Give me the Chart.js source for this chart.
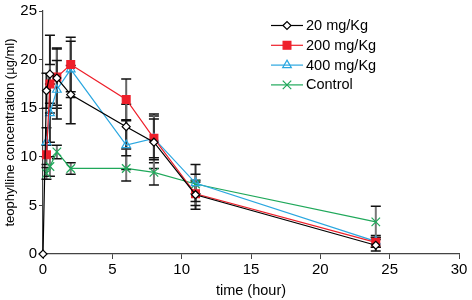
<!DOCTYPE html>
<html lang="en">
<head>
<meta charset="UTF-8">
<title>Teophylline</title>
<script src="https://cdn.jsdelivr.net/npm/chart.js"></script>
<style>
  body { margin: 0; background: #fff; }
  #caixa { width: 472px; height: 300px; }
</style>
</head>
<body>
<div id="caixa"><canvas id="grafico"></canvas></div>

<script>
// tempos (hora) e concentrações (µg/ml)
var tempos20 = [0, 0.25, 0.5, 1, 2, 6, 8, 11, 24]
var tempos = [0.25, 0.5, 1, 2, 6, 8, 11, 24]

var dose20 = [0, 16.8, 18.5, 18.1, 16.4, 13.1, 11.5, 6.1, 0.9]
var erro20 = [0, 1.8, 4.0, 3.1, 3.0, 2.3, 2.7, 1.5, 0.6]

var dose200 = [10.2, 17.5, 18.2, 19.5, 15.9, 11.9, 6.2, 1.2]
var erro200 = [1.0, 2.0, 2.9, 2.8, 2.1, 2.5, 1.2, 0.5]

var dose400 = [11.5, 14.5, 16.9, 19.0, 11.2, 11.9, 7.3, 1.3]
var erro400 = [1.5, 3.0, 3.0, 2.9, 2.5, 2.0, 1.9, 0.6]

var controle = [8.3, 9.0, 10.5, 8.8, 8.8, 8.4, 7.2, 3.3]
var erroControle = [0.6, 1.0, 0.7, 0.6, 1.3, 1.3, 1.0, 1.6]

var xTicks = [0, 5, 10, 15, 20, 25, 30]
var yTicks = [0, 5, 10, 15, 20, 25]

var fonte = "Arial, 'Liberation Sans', sans-serif"

function pontos(xs, ys) {
    var lista = []
    for (var i = 0; i < xs.length; i++) {
        lista.push({ x: xs[i], y: ys[i] })
    }
    return lista
}

// barras de erro desenhadas pelas escalas do próprio gráfico
var barrasErro = {
    id: 'barrasErro',
    beforeDatasetsDraw: function (chart) {
        var ctx = chart.ctx
        var sx = chart.scales.x
        var sy = chart.scales.y
        ctx.save()
        chart.data.datasets.forEach(function (ds) {
            ds.data.forEach(function (p, i) {
                var e = ds.erros[i]
                if (!e) return
                var px = sx.getPixelForValue(p.x)
                var top = sy.getPixelForValue(p.y + e)
                var bot = sy.getPixelForValue(Math.max(0, p.y - e))
                ctx.strokeStyle = ds.corErro
                ctx.lineWidth = 2
                ctx.beginPath()
                ctx.moveTo(px, top)
                ctx.lineTo(px, bot)
                ctx.stroke()
                ctx.strokeStyle = '#111'
                ctx.lineWidth = 1.5
                ctx.beginPath()
                ctx.moveTo(px - 5, top)
                ctx.lineTo(px + 5, top)
                ctx.moveTo(px - 5, bot)
                ctx.lineTo(px + 5, bot)
                ctx.stroke()
            })
        })
        ctx.restore()
    }
}

// legenda com linha + marcador
var legenda = {
    id: 'legenda',
    afterDraw: function (chart) {
        var ctx = chart.ctx
        var area = chart.chartArea
        var x0 = area.left + 228
        ctx.save()
        chart.data.datasets.forEach(function (ds, i) {
            var y = area.top + 14.5 + i * 19.8
            ctx.strokeStyle = ds.borderColor
            ctx.lineWidth = 1.2
            ctx.beginPath()
            ctx.moveTo(x0, y)
            ctx.lineTo(x0 + 32, y)
            ctx.stroke()
            ctx.fillStyle = ds.pointBackgroundColor
            ctx.strokeStyle = ds.borderColor
            ctx.lineWidth = 1.2
            Chart.helpers.drawPoint(ctx, {
                pointStyle: ds.pointStyle,
                radius: ds.pointRadius,
                rotation: 0,
                borderWidth: 1.2
            }, x0 + 16, y)
            ctx.fillStyle = '#000'
            ctx.font = '14.5px ' + fonte
            ctx.textBaseline = 'middle'
            ctx.textAlign = 'left'
            ctx.fillText(ds.label, x0 + 35, y + 0.5)
        })
        ctx.restore()
    }
}

var dados = {
    datasets: [{
        label: '20 mg/Kg',
        data: pontos(tempos20, dose20),
        erros: erro20,
        corErro: '#222',
        borderColor: '#000',
        backgroundColor: '#000',
        pointBackgroundColor: '#fff',
        pointBorderColor: '#000',
        pointStyle: 'rectRot',
        pointRadius: 4,
        borderWidth: 1.2,
        clip: false
    }, {
        label: '200 mg/Kg',
        data: pontos(tempos, dose200),
        erros: erro200,
        corErro: '#666',
        borderColor: '#ee1f2a',
        backgroundColor: '#ee1f2a',
        pointBackgroundColor: '#ee1f2a',
        pointBorderColor: '#ee1f2a',
        pointStyle: 'rect',
        pointRadius: 5.5,
        borderWidth: 1.2,
        clip: false
    }, {
        label: '400 mg/Kg',
        data: pontos(tempos, dose400),
        erros: erro400,
        corErro: '#333',
        borderColor: '#2aa7e0',
        backgroundColor: '#2aa7e0',
        pointBackgroundColor: 'rgba(255,255,255,0)',
        pointBorderColor: '#2aa7e0',
        pointStyle: 'triangle',
        pointRadius: 5,
        borderWidth: 1.2,
        clip: false
    }, {
        label: 'Control',
        data: pontos(tempos, controle),
        erros: erroControle,
        corErro: '#777',
        borderColor: '#1fa85a',
        backgroundColor: '#1fa85a',
        pointBackgroundColor: '#1fa85a',
        pointBorderColor: '#1fa85a',
        pointStyle: 'crossRot',
        pointRadius: 6,
        borderWidth: 1.2,
        clip: false
    }]
}

var config = {
    type: 'line',
    data: dados,
    plugins: [barrasErro, legenda],
    options: {
        responsive: true,
        maintainAspectRatio: false,
        animation: false,
        layout: { padding: { top: 7, right: 13, left: 0, bottom: 0 } },
        elements: { line: { tension: 0, fill: false } },
        plugins: {
            legend: { display: false },
            tooltip: { enabled: false }
        },
        scales: {
            x: {
                type: 'linear',
                min: 0,
                max: 30,
                afterFit: function (s) { s.height = 46 },
                afterBuildTicks: function (s) { s.ticks = xTicks.map(function (v) { return { value: v } }) },
                grid: { drawOnChartArea: false, drawTicks: true, tickLength: 5, color: '#444' },
                border: { color: '#444', width: 1.2 },
                ticks: { color: '#000', font: { family: fonte, size: 15 }, padding: 2, maxRotation: 0 },
                title: { display: true, text: 'time (hour)', color: '#000', font: { family: fonte, size: 14.5 }, padding: { top: 0, bottom: 0 } }
            },
            y: {
                min: 0,
                max: 25,
                afterFit: function (s) { s.width = 43 },
                afterBuildTicks: function (s) { s.ticks = yTicks.map(function (v) { return { value: v } }) },
                grid: { drawOnChartArea: false, drawTicks: true, tickLength: 4, color: '#444' },
                border: { color: '#444', width: 1.2 },
                ticks: { color: '#000', font: { family: fonte, size: 15 }, padding: 2 },
                title: { display: true, text: 'teophylline concentration (µg/ml)', color: '#000', font: { family: fonte, size: 13 }, padding: { top: 3, bottom: 0 } }
            }
        }
    }
}

new Chart(document.getElementById('grafico'), config)
</script>
</body>
</html>
